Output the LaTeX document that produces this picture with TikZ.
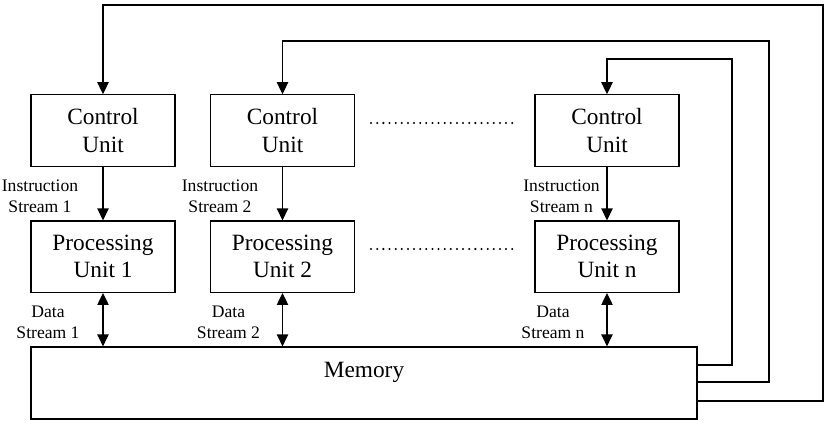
\documentclass[tikz,border=0pt]{standalone}
\usepackage{fontspec}
\setmainfont{Liberation Serif}
\usetikzlibrary{arrows.meta,calc}

\begin{document}
\begin{tikzpicture}[x=0.75pt,y=-0.75pt,
  unit/.style={draw,line width=0.9pt,minimum width=108pt,minimum height=53.5pt,inner sep=0pt,
    align=center,font=\fontsize{17.5}{20.5}\selectfont},
  lbl/.style={align=center,inner sep=0pt,font=\fontsize{13.2}{15.5}\selectfont},
  arr/.style={line width=0.9pt,-{Triangle[length=9pt,width=8.5pt]}},
  darr/.style={line width=0.9pt,{Triangle[length=9pt,width=8.5pt]}-{Triangle[length=9pt,width=8.5pt]}},
  dots/.style={line width=1.7pt,line cap=round,dash pattern=on 0pt off 4.6pt}]

\useasboundingbox (0,0) rectangle (826,428);

% control units
\node[unit] (cu1) at (103,130.5) {Control\\Unit};
\node[unit] (cu2) at (282.5,130.5) {Control\\Unit};
\node[unit] (cun) at (607,130.5) {Control\\Unit};

% processing units
\node[unit] (pu1) at (103,256.7) {Processing\\Unit 1};
\node[unit] (pu2) at (282.5,256.7) {Processing\\Unit 2};
\node[unit] (pun) at (607,256.7) {Processing\\Unit n};

\node[unit,minimum width=499.5pt,minimum height=54pt] (mem) at (364,383) {};
\node[inner sep=0pt,font=\fontsize{17.5}{20.5}\selectfont] (memtxt) at ($(mem.north)+(0,25.5)$) {Memory};

\node[lbl] (is1) at (40,196) {Instruction\\Stream 1};
\node[lbl] (is2) at (220,196) {Instruction\\Stream 2};
\node[lbl] (isn) at (561.5,196) {Instruction\\Stream n};
\node[lbl] (ds1) at (48,322) {Data\\Stream 1};
\node[lbl] (ds2) at (228.5,322) {Data\\Stream 2};
\node[lbl] (dsn) at (553,322) {Data\\Stream n};

\draw[dots] ($(cu2.east)+(16,-7.5)$) -- ($(cun.west)+(-18,-7.5)$);
\draw[dots] ($(pu2.east)+(16,-7.7)$) -- ($(pun.west)+(-18,-7.7)$);

\draw[arr] (cu1) -- (pu1);
\draw[arr] (cu2) -- (pu2);
\draw[arr] (cun) -- (pun);

\draw[darr] (pu1.south) -- (pu1.south |- mem.north);
\draw[darr] (pu2.south) -- (pu2.south |- mem.north);
\draw[darr] (pun.south) -- (pun.south |- mem.north);

% feedback from memory
\draw[arr] (mem.east |- 0,365) -| (732,59) -| (cun.north);
\draw[arr] (mem.east |- 0,382) -| (769,41) -| (cu2.north);
\draw[arr] (mem.east |- 0,401) -| (823,5) -| (cu1.north);
\end{tikzpicture}
\end{document}
